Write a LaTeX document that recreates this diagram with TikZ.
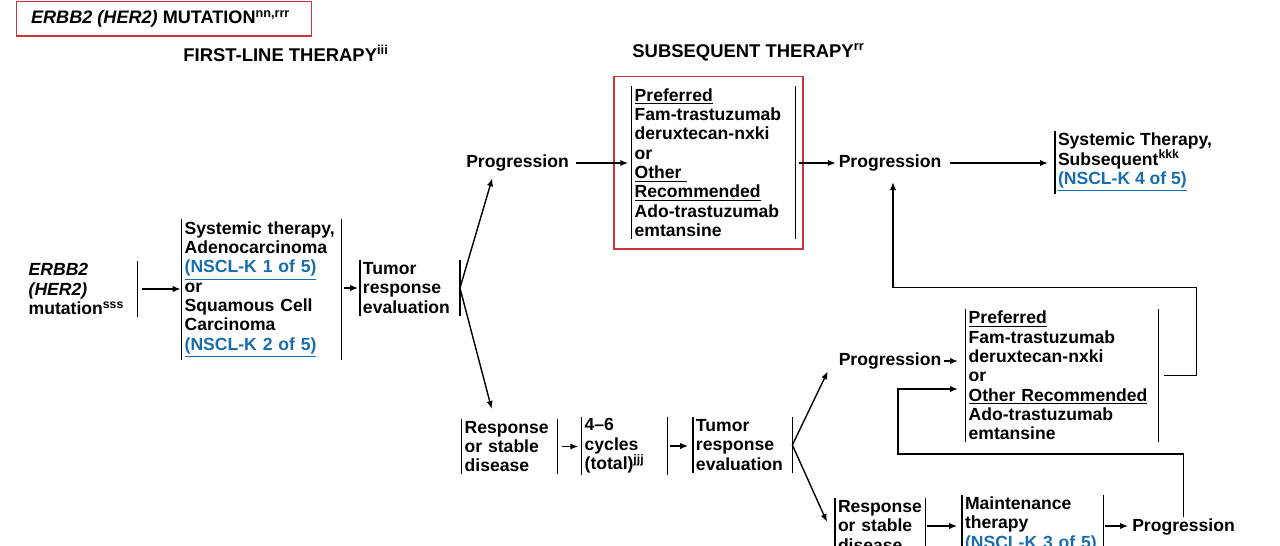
\documentclass[tikz,border=0pt]{standalone}
\usepackage{fontspec}
\setmainfont{Liberation Sans}
\usetikzlibrary{arrows.meta}
\definecolor{framered}{RGB}{204,52,60}
\definecolor{linkblue}{RGB}{24,110,172}
\newcommand{\nsclk}[1]{\textcolor{linkblue}{\underline{(NSCL-K #1 of 5)}}}

\begin{document}
\begin{tikzpicture}[x=0.02cm, y=-0.02cm,
  every node/.style={font=\fontsize{10pt}{11pt}\selectfont\bfseries, inner xsep=1.5pt, inner ysep=1pt},
  tbox/.style={anchor=west, align=left},
  hdr/.style={anchor=west, font=\fontsize{10.5pt}{12pt}\selectfont\bfseries},
  vbar/.style={-, line width=0.7pt, draw=black},
  arw/.style={-{Latex[length=4.5pt,width=3.6pt]}, line width=0.8pt, draw=black},
  redframe/.style={draw=framered, line width=0.8pt}]
\useasboundingbox (0,0) rectangle (1280,545);
\clip (0,0) rectangle (1280,545);

% headings
\node[redframe, minimum width=5.9cm, minimum height=0.69cm, font=\fontsize{10.3pt}{11pt}\selectfont\bfseries] (title) at (164.2,18.9) {\textit{ERBB2 (HER2)} MUTATION\textsuperscript{nn,rrr}\hspace*{4pt}};
\node[hdr] (first) at (180.4,53) {FIRST-LINE THERAPY\textsuperscript{iii}};
\node[hdr] (subs) at (629.4,52) {SUBSEQUENT THERAPY\textsuperscript{rr}};

% first-line therapy
\node[tbox, text width=2.114cm] (mut) at (25.7,289) {\textit{ERBB2}\\\textit{(HER2)}\\mutation\textsuperscript{sss}};
\node[tbox, text width=3.074cm] (sys1) at (181.7,289.5) {Systemic therapy,\\Adenocarcinoma\\\nsclk{1}\\or\\Squamous Cell\\Carcinoma\\\nsclk{2}};
\node[tbox, text width=1.88cm] (tre1) at (360,288) {Tumor\\response\\evaluation};
\node (prog1) at (517.5,163) {Progression};
\node[tbox, text width=1.794cm] (rsd1) at (461.7,446.5) {Response\\or stable\\disease};
\node[tbox, text width=1.594cm] (cyc) at (581.7,446) {4--6\\cycles\\(total)\textsuperscript{jjj}};
\node[tbox, text width=1.868cm] (tre2) at (693,445) {Tumor\\response\\evaluation};

% subsequent therapy
\node[tbox, text width=3.16cm] (sub1) at (631.7,162.4) {\underline{Preferred}\\Fam-trastuzumab\\deruxtecan-nxki\\or\\\underline{Other\ }\\\underline{Recommended}\\Ado-trastuzumab\\emtansine};
\node (prog2) at (890,163) {Progression};
\node[tbox] (sys2) at (1055,162.5) {Systemic Therapy,\\Subsequent\textsuperscript{kkk}\\\nsclk{4}};
\node (prog3) at (890,361) {Progression};
\node[tbox, text width=3.74cm] (sub2) at (965.7,375.5) {\underline{Preferred}\\Fam-trastuzumab\\deruxtecan-nxki\\or\\\underline{Other Recommended}\\Ado-trastuzumab\\emtansine};
\node[tbox, text width=1.694cm] (rsd2) at (835,526) {Response\\or stable\\disease};
\node[tbox, text width=2.714cm] (maint) at (962,526) {Maintenance\\therapy\\\nsclk{3}};
\node (prog4) at (1183.5,527) {Progression};
\coordinate (back) at (898,454);

\draw[redframe] (614,76.7) rectangle (803,249);

% bars
\path[vbar] (mut.north east) edge (mut.south east);
\path[vbar] (sys1.north west) edge (sys1.south west) (sys1.north east) edge (sys1.south east);
\path[vbar] (tre1.north west) edge (tre1.south west) (tre1.north east) edge (tre1.south east);
\path[vbar] (rsd1.north west) edge (rsd1.south west) (rsd1.north east) edge (rsd1.south east);
\path[vbar] (cyc.north west) edge (cyc.south west) (cyc.north east) edge (cyc.south east);
\path[vbar] (tre2.north west) edge (tre2.south west) (tre2.north east) edge (tre2.south east);
\path[vbar] (sub1.north west) edge (sub1.south west) (sub1.north east) edge (sub1.south east);
\path[vbar] (sys2.north west) edge (sys2.south west);
\path[vbar] (sub2.north west) edge (sub2.south west) (sub2.north east) edge (sub2.south east);
\path[vbar] (rsd2.north west) edge (rsd2.south west) (rsd2.north east) edge (rsd2.south east);
\path[vbar] (maint.north west) edge (maint.south west) (maint.north east) edge (maint.south east);

% connectors
\path (mut.east) edge[arw, shorten <=2.8pt, shorten >=0.6pt] (mut.east -| sys1.west);
\path (tre1.west -| sys1.east) edge[arw, shorten <=1.3pt, shorten >=1.1pt] (tre1.west);
\path (tre1.east) edge[arw] ([shift={(29,5)}]prog1.south west);
\path (tre1.east) edge[arw] ([shift={(30,-10)}]rsd1.north west);
\path (prog1.east) edge[arw, shorten <=2.5pt, shorten >=2pt] (prog1.east -| sub1.west);
\path (prog2.west -| sub1.east) edge[arw, shorten <=1.7pt] (prog2.west);
\path (prog2.east) edge[arw, shorten <=3pt, shorten >=4pt] (prog2.east -| sys2.west);
\path (rsd1.east) edge[arw, shorten <=2.8pt, shorten >=2pt] (rsd1.east -| cyc.west);
\path (cyc.east) edge[arw, shorten <=1.3pt, shorten >=2.8pt] (cyc.east -| tre2.west);
\path (tre2.east) edge[arw] ([shift={(-8,0)}]prog3.south west);
\path (tre2.east) edge[arw] ([shift={(-8,-4)}]rsd2.west);
\path (prog3.east) edge[arw, shorten >=4.4pt] (prog3.east -| sub2.west);
\path (rsd2.east) edge[arw, shorten <=1pt, shorten >=2.8pt] (rsd2.east -| maint.west);
\path (maint.east) edge[arw, shorten <=1pt, shorten >=0.7pt] (maint.east -| prog4.west);
\draw[arw, shorten <=2.8pt, shorten >=5pt] (sub2.east) -- ++(38,0) -- ++(0,-88) -| ([xshift=0.06cm]prog2.south);
\draw[arw, shorten >=4.4pt] (prog4.north) |- (back) |- ([yshift=-0.27cm]sub2.west);
\end{tikzpicture}
\end{document}
